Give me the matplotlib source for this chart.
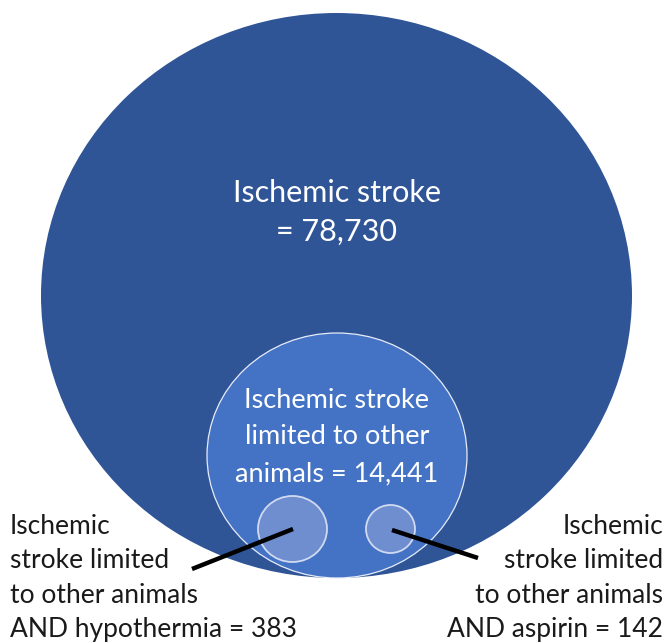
import matplotlib
matplotlib.use("Agg")
import matplotlib.pyplot as plt
from matplotlib.patches import Ellipse

plt.rcParams['font.family'] = ['Lato', 'DejaVu Sans']

# Data: record counts for each search set
labels = ["Ischemic stroke",
          "Ischemic stroke limited to other animals",
          "Ischemic stroke limited to other animals AND hypothermia",
          "Ischemic stroke limited to other animals AND aspirin"]
counts = [78730, 14441, 383, 142]

# Layout in pixel coordinates (x center, y center, width, height)
shapes = [(336.5, 295.5, 591, 565),
          (337, 455.5, 260, 245),
          (292.5, 529, 69, 66),
          (390.5, 529, 49, 48)]
faces = ['#2F5597', '#4472C4', '#6E8ED0', '#6E8ED0']
edges = ['none', '#E6ECF8', '#D0DAF0', '#D0DAF0']
widths = [0, 0.9, 1.3, 1.3]

fig = plt.figure(figsize=(6.7, 6.43), dpi=100)
ax = fig.add_axes([0, 0, 1, 1])
ax.set_xlim(0, 670)
ax.set_ylim(643, 0)
ax.axis('off')

for (cx, cy, w, h), fc, ec, lw in zip(shapes, faces, edges, widths):
    ax.add_patch(Ellipse((cx, cy), w, h, facecolor=fc, edgecolor=ec, linewidth=lw))

# Text inside the big and medium circles
ax.text(337, 212, f"Ischemic stroke\n= {counts[0]:,}",
        ha='center', va='center', color='white', fontsize=22, linespacing=1.47)
ax.text(337, 437, f"Ischemic stroke\nlimited to other\nanimals = {counts[1]:,}",
        ha='center', va='center', color='white', fontsize=19.5, linespacing=1.6)

# Side annotations
ax.text(10, 578, f"Ischemic\nstroke limited\nto other animals\nAND hypothermia = {counts[2]}",
        ha='left', va='center', color='#1a1a1a', fontsize=19, linespacing=1.46)
ax.text(663, 578, f"Ischemic\nstroke limited\nto other animals\nAND aspirin = {counts[3]}",
        ha='right', va='center', color='#1a1a1a', fontsize=19, linespacing=1.46)

# Pointer lines
ax.plot([293, 192], [529, 569], color='black', linewidth=3.2, solid_capstyle='butt')
ax.plot([392, 478], [530, 558], color='black', linewidth=3.2, solid_capstyle='butt')

fig.savefig("out.png", dpi=100)
